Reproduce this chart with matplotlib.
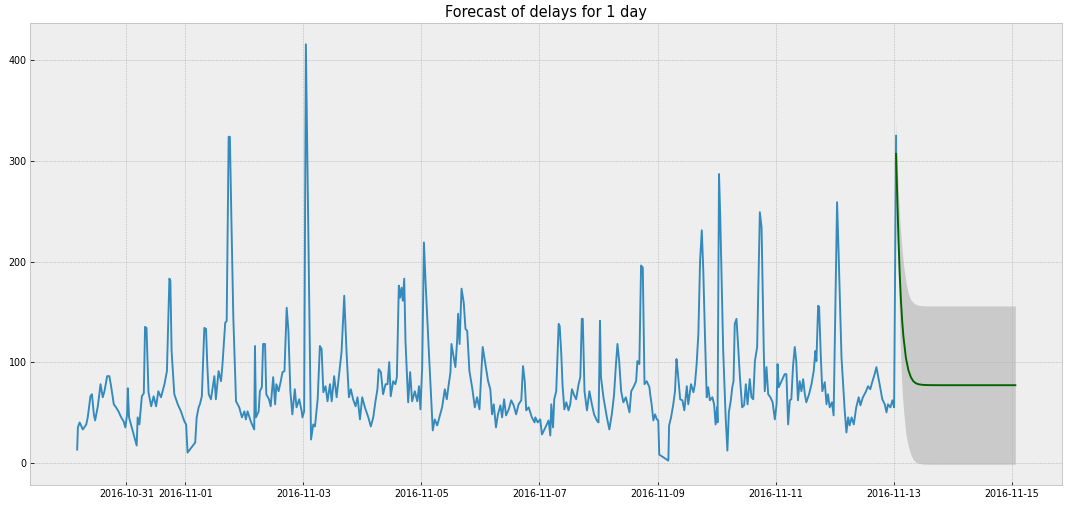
"""Hourly delays with a 1-day-ahead forecast and its confidence band."""

import matplotlib
matplotlib.use("Agg")
import matplotlib.pyplot as plt
import pandas as pd

START = pd.Timestamp("2016-10-30 00:00")

obs_hours = [
    4.0, 4.3, 5.0, 6.3, 7.7, 8.3, 9.4, 10.0, 10.8, 11.3, 12.4, 13.5, 14.4, 15.1, 16.2, 17.1,
    17.8, 18.9, 19.8, 20.8, 21.9, 22.9, 23.6, 24.3, 24.6, 25.1, 28.2, 28.6, 29.3, 30.3, 31.1,
    31.6, 32.2, 32.4, 33.0, 34.1, 35.1, 36.1, 37.0, 38.1, 39.5, 40.5, 41.5, 41.9, 42.4, 43.5,
    44.9, 46.2, 47.6, 48.3, 48.9,
    52.0, 52.6, 53.4, 53.9, 54.7, 55.7, 56.4, 56.9, 57.5, 58.4, 59.8, 60.4, 61.5, 62.5, 63.1,
    64.2, 64.8, 65.6, 66.1, 66.7, 67.5, 68.6, 69.9, 71.0, 72.0, 72.6, 73.3, 74.6, 76.0, 76.3,
    76.7, 77.8, 78.3, 79.1, 79.6, 80.4, 80.9, 82.0, 82.7, 83.7, 84.5, 85.0, 85.9, 86.8, 87.5,
    88.3, 89.2, 89.9, 90.7, 91.5, 92.5, 93.2, 94.3, 95.3, 95.6, 96.3, 97.0,
    99.1, 100.0, 100.7, 101.8, 102.7, 103.4, 104.1, 105.0, 105.8, 106.8, 107.5, 108.5, 109.5,
    110.4, 111.5, 112.6, 113.5, 114.5, 115.3, 116.2, 117.2, 118.0, 119.0, 119.9, 121.0, 122.4,
    123.4, 124.4, 125.3, 126.1, 126.6, 127.5, 128.4, 129.4, 130.2, 130.9, 131.5, 132.5, 133.4,
    134.0, 134.8, 135.3, 135.9, 136.4, 137.0, 137.5, 138.6, 139.4, 140.2, 141.3, 142.3, 143.0,
    143.6, 144.3, 145.0, 145.7, 147.0, 148.6,
    149.4, 150.4, 151.3, 152.4, 153.5, 154.3, 155.1, 155.8, 156.2, 157.1, 157.8, 158.5, 158.9,
    159.5, 160.3, 161.2, 161.9, 162.6, 163.5, 164.6, 165.7, 166.6, 167.6, 168.1, 168.9, 170.0,
    171.1, 172.0, 172.7, 173.4, 174.3, 175.1, 176.1, 176.8, 177.6, 178.4, 179.5, 180.5, 181.5,
    182.5, 183.5, 184.6, 185.3, 186.0, 186.6, 187.6, 188.9, 190.0,
    190.3, 191.3, 192.3, 193.0, 194.4, 195.7, 196.4, 196.8, 197.5, 198.0, 198.8, 199.8, 200.2,
    200.8, 201.4, 202.1, 202.9, 203.8, 204.5, 205.2, 206.1, 206.9, 207.9, 208.6, 209.2, 209.6,
    210.3, 211.3, 212.3, 213.3, 214.2, 215.3, 216.0, 216.6, 217.0, 218.0, 219.4, 220.4, 221.4,
    222.3, 223.1, 223.7, 224.4, 225.2, 226.1, 227.1, 228.6, 229.3, 230.2, 231.3, 231.8, 232.6,
    233.3, 234.0, 234.7, 235.6, 236.7,
    237.0, 237.6, 238.3, 239.0, 239.7, 240.3, 240.7, 244.4, 244.7, 245.5, 246.4, 247.1, 247.7,
    248.2, 249.2, 250.1, 250.9, 251.9, 252.5, 253.6, 254.6, 255.2, 255.9, 256.6, 257.3, 258.0,
    258.6, 259.3, 260.0, 260.6, 261.3, 262.3, 263.0, 263.6, 264.2, 264.4, 265.0, 265.5, 266.7,
    267.7, 268.4, 269.0, 269.8, 270.4, 270.9, 271.4, 272.1, 272.8, 273.5, 274.4, 275.2, 275.9,
    276.6, 277.5, 278.2, 278.9, 279.6, 280.5, 281.6, 282.3,
    283.2, 283.6, 284.3, 285.0, 285.9, 286.8, 287.7, 288.4, 288.8, 289.3, 290.4, 291.7, 292.4,
    293.1, 293.8, 294.4, 295.1, 295.8, 296.4, 297.1, 297.8, 298.5, 299.2, 299.9, 300.5, 301.6,
    302.6, 303.5, 304.2, 304.6, 305.3, 305.7, 306.4, 307.0, 308.0, 308.7, 309.3, 310.0, 310.9,
    311.6, 313.0, 313.6, 314.8, 316.1, 316.8, 317.5, 318.1, 318.9, 319.8, 320.8, 321.8, 322.5,
    323.5, 324.6, 325.6, 326.5, 327.4, 328.3, 329.0, 329.7, 330.3, 331.4, 332.4, 333.1, 333.7,
    334.7, 335.5, 336.2, 337.0,
]
obs_values = [
    13, 35, 40, 33, 38, 45, 66, 68, 48, 42, 56, 78, 65, 71, 86, 86,
    76, 58, 55, 51, 45, 41, 35, 48, 74, 45, 17, 45, 38, 66, 69,
    135, 134, 118, 70, 56, 66, 56, 71, 65, 78, 91, 183, 181, 111, 68,
    58, 51, 41, 38, 10,
    20, 45, 55, 58, 66, 134, 133, 98, 68, 63, 86, 63, 91, 81, 98,
    139, 141, 324, 324, 244, 144, 61, 55, 45, 51, 43, 51, 41, 33, 116,
    45, 51, 71, 75, 118, 118, 68, 63, 56, 85, 58, 78, 71, 81, 90,
    91, 154, 131, 71, 48, 73, 55, 63, 51, 45, 51, 416,
    23, 38, 36, 63, 116, 113, 70, 76, 61, 78, 61, 86, 65,
    85, 110, 166, 112, 65, 73, 63, 56, 65, 43, 65, 55, 45,
    36, 45, 61, 73, 93, 90, 68, 78, 78, 100, 66, 81, 78,
    85, 176, 164, 174, 161, 183, 121, 60, 90, 61, 71, 61, 76,
    53, 95, 219, 178, 111, 32,
    43, 37, 45, 55, 73, 63, 78, 90, 118, 105, 95, 121, 148,
    118, 173, 159, 133, 131, 91, 75, 55, 65, 53, 78, 115, 98,
    81, 73, 48, 58, 35, 48, 57, 45, 63, 47, 53, 62, 57,
    48, 58, 62, 96, 81, 52, 55, 45, 40,
    45, 40, 43, 28, 35, 42, 27, 58, 35, 63, 71, 138, 136,
    111, 76, 53, 60, 52, 58, 73, 67, 63, 78, 85, 143, 143,
    71, 52, 71, 58, 48, 42, 40, 141, 85, 65, 45, 33, 48,
    67, 98, 118, 101, 71, 60, 65, 50, 71, 75, 81, 101, 98,
    196, 194, 78, 81, 75,
    68, 58, 42, 48, 43, 42, 8, 2, 37, 45, 58, 71, 103,
    91, 63, 62, 52, 76, 58, 78, 70, 78, 98, 128, 201, 231,
    191, 125, 65, 75, 62, 65, 58, 38, 55, 40, 287, 244, 111,
    45, 12, 50, 62, 75, 81, 138, 143, 115, 85, 55, 57, 78,
    58, 83, 65, 63, 101, 115, 249, 234,
    111, 71, 95, 68, 65, 60, 43, 58, 98, 75, 81, 88, 88,
    38, 62, 63, 96, 115, 101, 62, 81, 71, 83, 68, 60, 68,
    78, 91, 111, 101, 156, 155, 105, 71, 80, 58, 68, 55, 60,
    47, 259, 211, 105, 52, 30, 45, 37, 45, 38, 55, 65, 57,
    65, 70, 76, 73, 81, 88, 95, 86, 78, 63, 58, 50, 58,
    55, 62, 55, 325,
]

# forecast for the next day and a bit, with its confidence band
fc_hours = [337, 337.5, 338, 338.5, 339, 339.5, 340, 341, 342, 343, 344, 345, 346, 348, 350,
            355, 365, 385.5]
fc_mean = [307, 262, 220, 186, 160, 140, 125, 104, 92, 85, 81, 79, 78, 77.3, 77.1,
           77, 77, 77]
fc_upper = [340, 295, 265, 243, 225, 210, 197, 180, 168, 162, 159, 157.5, 156.5, 156, 155.8,
            155.8, 155.8, 155.8]
fc_lower = [274, 229, 175, 129, 95, 70, 53, 28, 16, 8, 3, 0.5, -0.5, -1.4, -1.6,
            -1.6, -1.6, -1.6]


def main():
    plt.style.use("bmh")
    plt.rcParams["font.size"] = 9.5

    obs_t = START + pd.to_timedelta(obs_hours, unit="h")
    fc_t = START + pd.to_timedelta(fc_hours, unit="h")

    fig = plt.figure(figsize=(1069 / 72, 506 / 72), dpi=72)
    ax = fig.add_subplot(111)
    fig.subplots_adjust(left=0.0283, right=0.9937, bottom=0.041, top=0.954)

    ax.plot(obs_t, obs_values, color="#348ABD", lw=1.9)
    ax.plot(fc_t, fc_mean, color="darkgreen", lw=1.9)
    ax.fill_between(fc_t, fc_lower, fc_upper, color="grey", alpha=0.32, lw=0)
    ax.set_title("Forecast of delays for 1 day", fontsize=14.5)

    fig.savefig("out.png", dpi=72)


if __name__ == "__main__":
    main()
